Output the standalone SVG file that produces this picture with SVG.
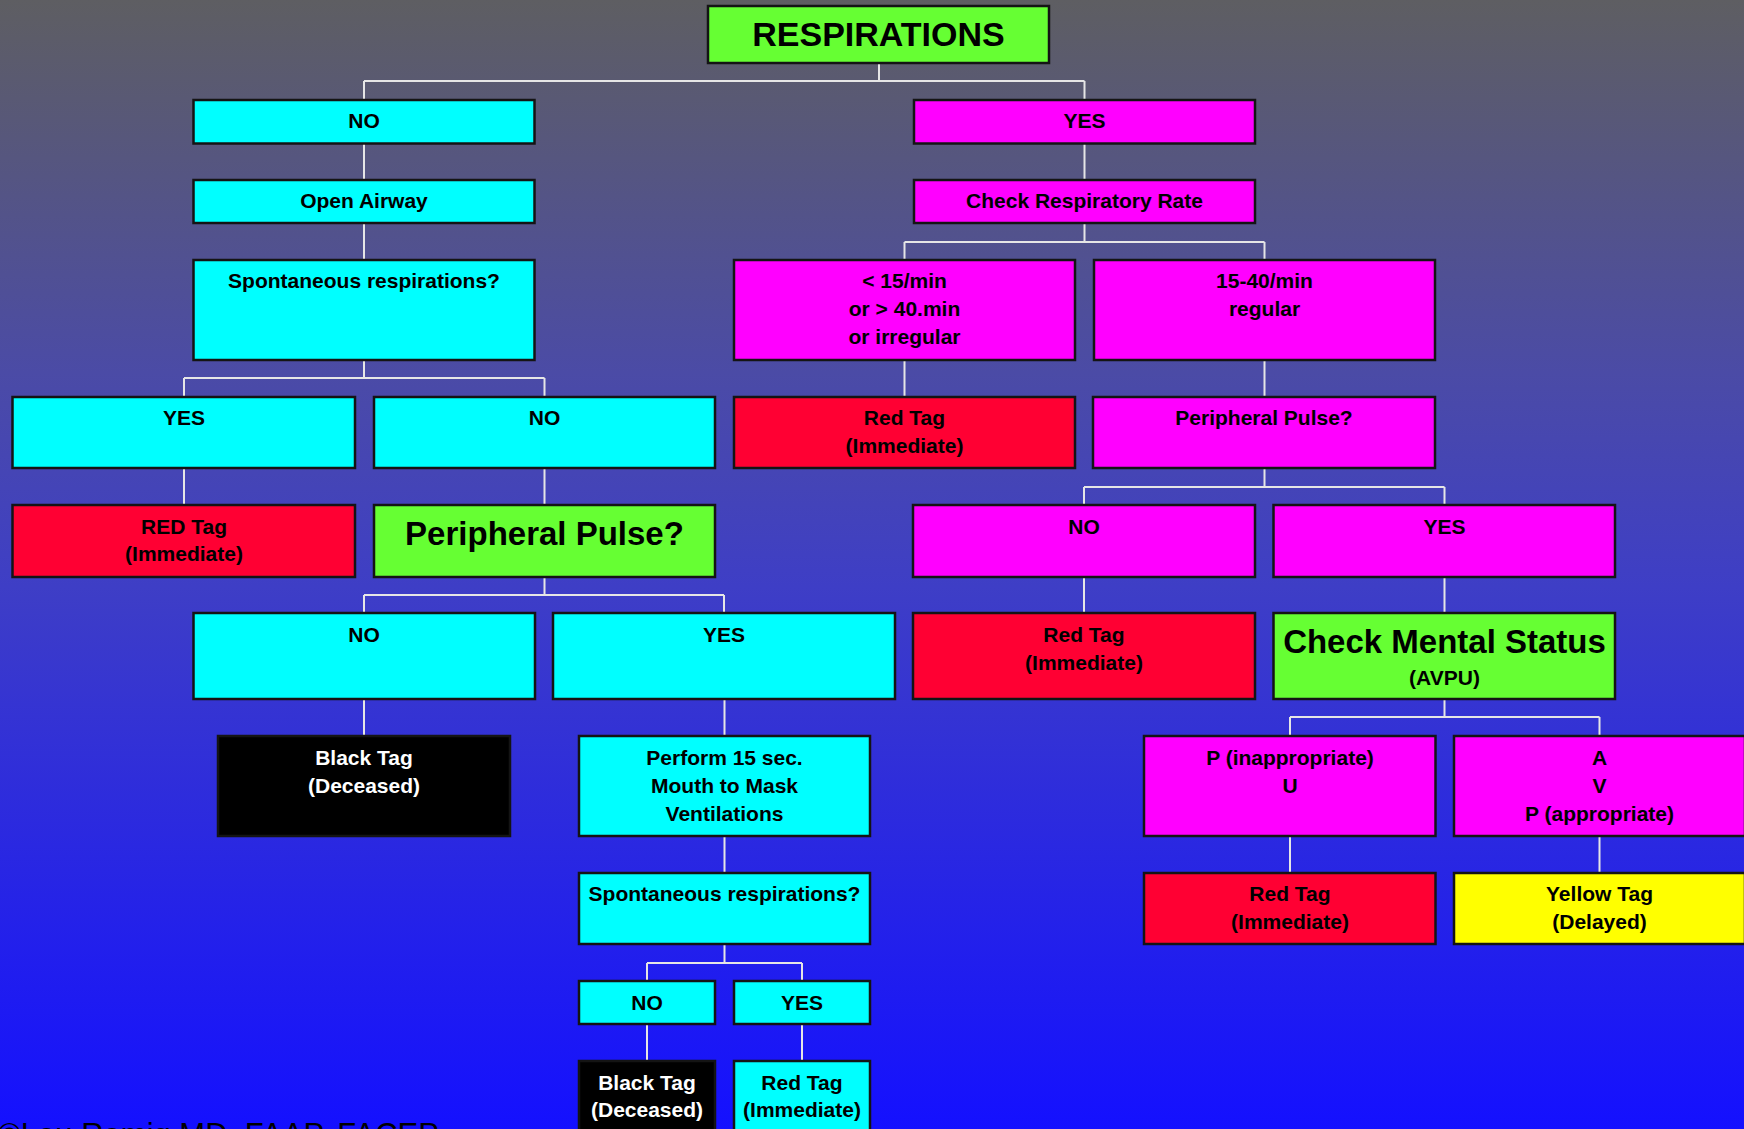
<svg xmlns="http://www.w3.org/2000/svg" width="1744" height="1129" viewBox="0 0 1744 1129">
<defs>
<linearGradient id="bg" x1="0" y1="0" x2="0" y2="1">
<stop offset="0" stop-color="#5e5e62"/>
<stop offset="0.33" stop-color="#4b4ba6"/>
<stop offset="0.52" stop-color="#3e3ec6"/>
<stop offset="1" stop-color="#1410ff"/>
</linearGradient>
<style>
.box{stroke:#141414;stroke-width:2.5}
.cy{fill:#00ffff}.mg{fill:#ff00ff}.rd{fill:#ff0033}.gr{fill:#66ff33}.yl{fill:#ffff00}.bk{fill:#000000}
text{font-family:"Liberation Sans",Arial,sans-serif;font-weight:bold;font-size:21px;text-anchor:middle;fill:#000}
.big{font-size:33px}
.wt{fill:#ffffff}
.conn line{stroke:#e6e6e6;stroke-width:2;fill:none}
.foot{font-weight:normal;font-size:31px;text-anchor:start}
</style>
</defs>
<rect x="0" y="0" width="1744" height="1129" fill="url(#bg)"/>

<g class="conn" id="connectors">
<line x1="879" y1="63" x2="879" y2="81"/>
<line x1="364" y1="81" x2="1084.5" y2="81"/>
<line x1="364" y1="81" x2="364" y2="100"/>
<line x1="1084.5" y1="81" x2="1084.5" y2="100"/>
<line x1="364" y1="143.5" x2="364" y2="180"/>
<line x1="364" y1="223" x2="364" y2="260"/>
<line x1="1084.5" y1="143.5" x2="1084.5" y2="180"/>
<line x1="1084.5" y1="223" x2="1084.5" y2="242"/>
<line x1="904.5" y1="242" x2="1264.5" y2="242"/>
<line x1="904.5" y1="242" x2="904.5" y2="260"/>
<line x1="1264.5" y1="242" x2="1264.5" y2="260"/>
<line x1="364" y1="360" x2="364" y2="378"/>
<line x1="184" y1="378" x2="544.5" y2="378"/>
<line x1="184" y1="378" x2="184" y2="397"/>
<line x1="544.5" y1="378" x2="544.5" y2="397"/>
<line x1="184" y1="468" x2="184" y2="505"/>
<line x1="544.5" y1="468" x2="544.5" y2="505"/>
<line x1="544.5" y1="577" x2="544.5" y2="595"/>
<line x1="364" y1="595" x2="724" y2="595"/>
<line x1="364" y1="595" x2="364" y2="613"/>
<line x1="724" y1="595" x2="724" y2="613"/>
<line x1="364" y1="699" x2="364" y2="736"/>
<line x1="724.5" y1="699" x2="724.5" y2="736"/>
<line x1="724.5" y1="836" x2="724.5" y2="873"/>
<line x1="724.5" y1="944" x2="724.5" y2="963"/>
<line x1="647" y1="963" x2="802" y2="963"/>
<line x1="647" y1="963" x2="647" y2="981"/>
<line x1="802" y1="963" x2="802" y2="981"/>
<line x1="647" y1="1024" x2="647" y2="1061"/>
<line x1="802" y1="1024" x2="802" y2="1061"/>
<line x1="904.5" y1="360" x2="904.5" y2="397"/>
<line x1="1264.5" y1="360" x2="1264.5" y2="397"/>
<line x1="1264.5" y1="468" x2="1264.5" y2="487"/>
<line x1="1084" y1="487" x2="1444.5" y2="487"/>
<line x1="1084" y1="487" x2="1084" y2="505"/>
<line x1="1444.5" y1="487" x2="1444.5" y2="505"/>
<line x1="1084" y1="577" x2="1084" y2="613"/>
<line x1="1444.5" y1="577" x2="1444.5" y2="613"/>
<line x1="1444.5" y1="699" x2="1444.5" y2="717"/>
<line x1="1290" y1="717" x2="1599.5" y2="717"/>
<line x1="1290" y1="717" x2="1290" y2="736"/>
<line x1="1599.5" y1="717" x2="1599.5" y2="736"/>
<line x1="1290" y1="836" x2="1290" y2="873"/>
<line x1="1599.5" y1="836" x2="1599.5" y2="873"/>
</g>

<g id="respirations"><rect class="box gr" x="708" y="6" width="341" height="57"/><text class="big" x="878.5" y="46" style="font-size:34px">RESPIRATIONS</text></g>
<g id="no1"><rect class="box cy" x="193.5" y="100" width="341" height="43.5"/><text x="364" y="128">NO</text></g>
<g id="yes1"><rect class="box mg" x="914" y="100" width="341" height="43.5"/><text x="1084.5" y="128">YES</text></g>
<g id="open-airway"><rect class="box cy" x="193.5" y="180" width="341" height="43"/><text x="364" y="208">Open Airway</text></g>
<g id="check-rate"><rect class="box mg" x="914" y="180" width="341" height="43"/><text x="1084.5" y="208">Check Respiratory Rate</text></g>
<g id="spont1"><rect class="box cy" x="193.5" y="260" width="341" height="100"/><text x="364" y="288">Spontaneous respirations?</text></g>
<g id="rate-abnormal"><rect class="box mg" x="734" y="260" width="341" height="100"/><text x="904.5" y="288">&lt; 15/min</text><text x="904.5" y="316">or &gt; 40.min</text><text x="904.5" y="344">or irregular</text></g>
<g id="rate-normal"><rect class="box mg" x="1094" y="260" width="341" height="100"/><text x="1264.5" y="288">15-40/min</text><text x="1264.5" y="316">regular</text></g>
<g id="yes2"><rect class="box cy" x="12.5" y="397" width="342.5" height="71"/><text x="184" y="425">YES</text></g>
<g id="no2"><rect class="box cy" x="374" y="397" width="341" height="71"/><text x="544.5" y="425">NO</text></g>
<g id="red1"><rect class="box rd" x="734" y="397" width="341" height="71"/><text x="904.5" y="425">Red Tag</text><text x="904.5" y="453">(Immediate)</text></g>
<g id="pulse-mg"><rect class="box mg" x="1093" y="397" width="342" height="71"/><text x="1264" y="425">Peripheral Pulse?</text></g>
<g id="red-tag-left"><rect class="box rd" x="12.5" y="505" width="342.5" height="72"/><text x="184" y="534">RED Tag</text><text x="184" y="561">(Immediate)</text></g>
<g id="pulse-gr"><rect class="box gr" x="374" y="505" width="341" height="72"/><text class="big" x="544.5" y="545">Peripheral Pulse?</text></g>
<g id="no-mg"><rect class="box mg" x="913" y="505" width="342" height="72"/><text x="1084" y="534">NO</text></g>
<g id="yes-mg"><rect class="box mg" x="1273.5" y="505" width="341.5" height="72"/><text x="1444.5" y="534">YES</text></g>
<g id="no3"><rect class="box cy" x="193.5" y="613" width="341.5" height="86"/><text x="364" y="642">NO</text></g>
<g id="yes3"><rect class="box cy" x="553" y="613" width="342" height="86"/><text x="724" y="642">YES</text></g>
<g id="red2"><rect class="box rd" x="913" y="613" width="342" height="86"/><text x="1084" y="642">Red Tag</text><text x="1084" y="670">(Immediate)</text></g>
<g id="mental"><rect class="box gr" x="1273.5" y="613" width="341.5" height="86"/><text class="big" x="1444.5" y="653">Check Mental Status</text><text x="1444.5" y="685">(AVPU)</text></g>
<g id="black1"><rect class="box bk" x="218" y="736" width="292" height="100"/><text class="wt" x="364" y="765">Black Tag</text><text class="wt" x="364" y="793">(Deceased)</text></g>
<g id="perform"><rect class="box cy" x="579" y="736" width="291" height="100"/><text x="724.5" y="765">Perform 15 sec.</text><text x="724.5" y="793">Mouth to Mask</text><text x="724.5" y="821">Ventilations</text></g>
<g id="pu"><rect class="box mg" x="1144" y="736" width="291.5" height="100"/><text x="1290" y="765">P (inappropriate)</text><text x="1290" y="793">U</text></g>
<g id="avp"><rect class="box mg" x="1454" y="736" width="291" height="100"/><text x="1599.5" y="765">A</text><text x="1599.5" y="793">V</text><text x="1599.5" y="821">P (appropriate)</text></g>
<g id="spont2"><rect class="box cy" x="579" y="873" width="291" height="71"/><text x="724.5" y="901">Spontaneous respirations?</text></g>
<g id="red3"><rect class="box rd" x="1144" y="873" width="291.5" height="71"/><text x="1290" y="901">Red Tag</text><text x="1290" y="929">(Immediate)</text></g>
<g id="yellow"><rect class="box yl" x="1454" y="873" width="291" height="71"/><text x="1599.5" y="901">Yellow Tag</text><text x="1599.5" y="929">(Delayed)</text></g>
<g id="no4"><rect class="box cy" x="579" y="981" width="136" height="43"/><text x="647" y="1010">NO</text></g>
<g id="yes4"><rect class="box cy" x="734" y="981" width="136" height="43"/><text x="802" y="1010">YES</text></g>
<g id="black2"><rect class="box bk" x="579" y="1061" width="136" height="90"/><text class="wt" x="647" y="1090">Black Tag</text><text class="wt" x="647" y="1117">(Deceased)</text></g>
<g id="red4"><rect class="box cy" x="734" y="1061" width="136" height="90"/><text x="802" y="1090">Red Tag</text><text x="802" y="1117">(Immediate)</text></g>

<text class="foot" x="-2" y="1145">©Lou Romig MD, FAAP, FACEP</text>
</svg>
